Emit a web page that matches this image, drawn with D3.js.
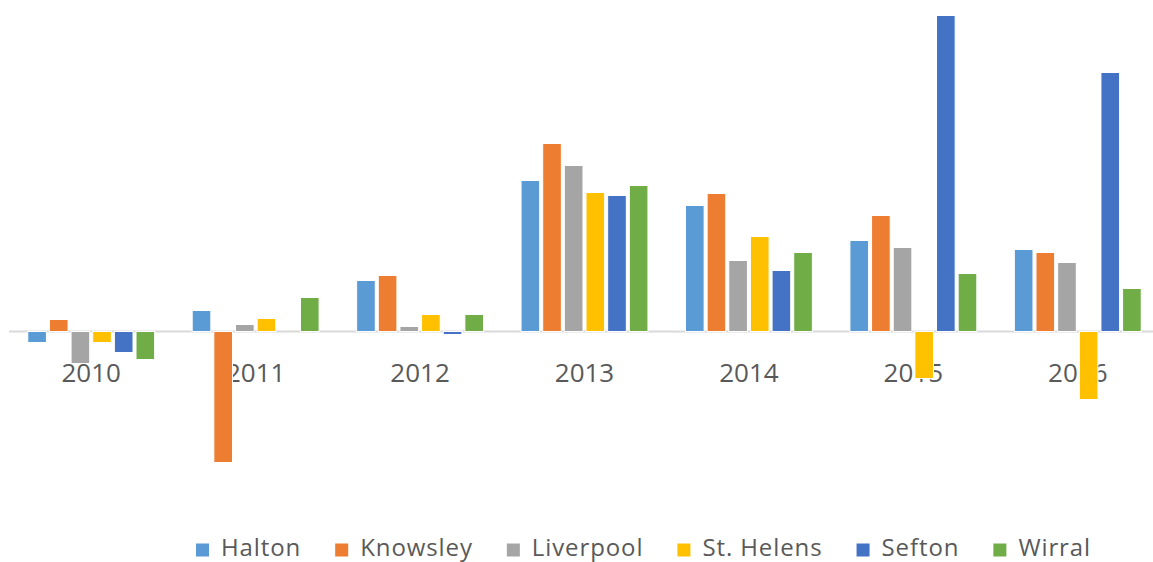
<!DOCTYPE html>
<html>
<head>
<meta charset="utf-8">
<script src="https://cdn.jsdelivr.net/npm/d3@7"></script>
<style>
  html, body { margin: 0; padding: 0; background: #fff; }
  svg { display: block; }
</style>
</head>
<body>
<svg id="chart" width="1153" height="562"></svg>
<script>
// Data
const years = ['2010', '2011', '2012', '2013', '2014', '2015', '2016'];
const areas = ['Halton', 'Knowsley', 'Liverpool', 'St. Helens', 'Sefton', 'Wirral'];
const colors = ['#5B9BD5', '#ED7D31', '#A5A5A5', '#FFC000', '#4472C4', '#70AD47'];

const halton    = [-11,   21,  51, 151, 126,  91,  82];
const knowsley  = [ 12, -131,  56, 188, 138, 116,  79];
const liverpool = [-32,    7,   5, 166,  71,  84,  69];
const stHelens  = [-11,   13,  17, 139,  95, -47, -68];
const sefton    = [-21,    0,  -3, 136,  61, 316, 259];
const wirral    = [-28,   34,  17, 146,  79,  58,  43];
const series = [halton, knowsley, liverpool, stHelens, sefton, wirral];

const svg = d3.select('#chart');
const W = 1153;
const font = '"Open Sans", "DejaVu Sans", sans-serif';

// Scales
const x0 = d3.scaleBand().domain(years).range([9, 1160])
  .paddingInner(0.21).paddingOuter(0.105);
const x1 = d3.scaleBand().domain(areas).range([0, x0.bandwidth()]);
const y = d3.scaleLinear().domain([-150, 320]).range([481.5, 11.5]);

// Year labels (drawn under the bars)
svg.append('g').selectAll('text')
  .data(years).join('text')
  .attr('x', d => x0(d) + x0.bandwidth() / 2)
  .attr('y', 381.5)
  .attr('text-anchor', 'middle')
  .attr('font-family', font).attr('font-size', 26)
  .attr('fill', '#595959')
  .text(d => d);

// Zero line
svg.append('line')
  .attr('x1', 9).attr('x2', W)
  .attr('y1', y(0)).attr('y2', y(0))
  .attr('stroke', '#D9D9D9').attr('stroke-width', 2);

// Bars
const groups = svg.append('g').selectAll('g')
  .data(years).join('g')
  .attr('transform', d => `translate(${x0(d)},0)`);

groups.selectAll('rect')
  .data((d, i) => areas.map((a, k) => ({ area: a, k, v: series[k][i] })))
  .join('rect')
  .filter(d => d.v !== 0)
  .attr('x', d => x1(d.area) + 1.5)
  .attr('width', x1.bandwidth() - 3)
  .attr('y', d => y(Math.max(0, d.v)))
  .attr('height', d => Math.abs(y(d.v) - y(0)))
  .attr('fill', d => colors[d.k])
  .attr('stroke', '#fff').attr('stroke-width', 1);

// Legend
const legend = svg.append('g');
const items = legend.selectAll('g').data(areas).join('g');
items.append('rect')
  .attr('width', 13).attr('height', 13)
  .attr('y', 543.5)
  .attr('fill', (d, i) => colors[i]);
items.append('text')
  .attr('x', 25).attr('y', 555.5)
  .attr('font-family', font).attr('font-size', 24)
  .attr('letter-spacing', 0.9)
  .attr('fill', '#595959')
  .text(d => d);

let cx = 0;
const gap = 34;
items.each(function () {
  const g = d3.select(this);
  const tw = g.select('text').node().getComputedTextLength();
  g.attr('transform', `translate(${cx},0)`);
  cx += 25 + tw + gap;
});
const total = cx - gap;
legend.attr('transform', `translate(${643.5 - total / 2},0)`);
</script>
</body>
</html>
